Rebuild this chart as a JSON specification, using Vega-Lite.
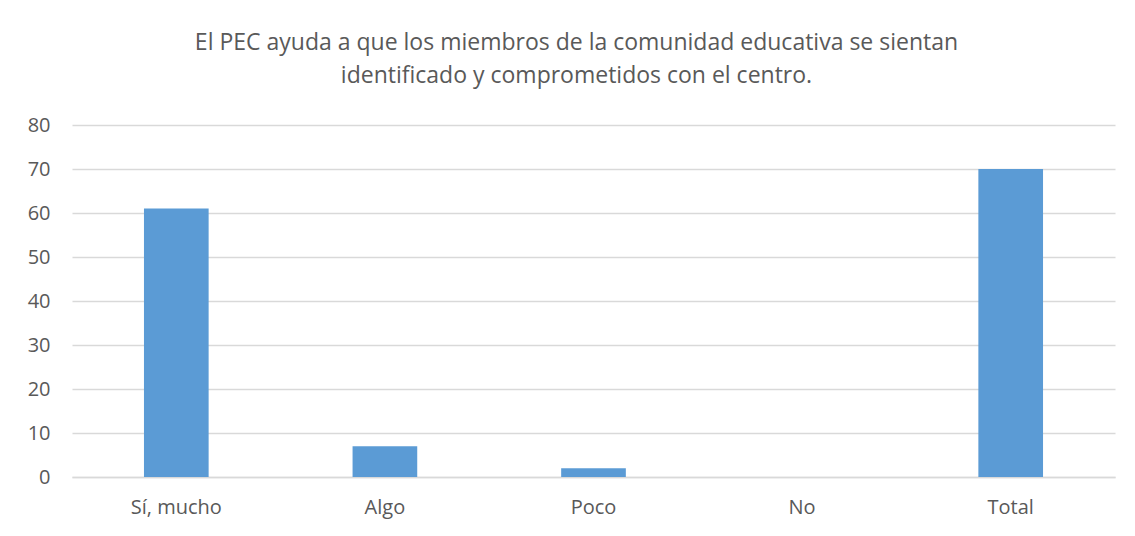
{
  "$schema": "https://vega.github.io/schema/vega-lite/v6.json",
  "autosize": "none",
  "width": 1043,
  "height": 352,
  "padding": {"left": 72, "top": 125, "right": 20, "bottom": 59},
  "background": "white",
  "title": {
    "text": ["El PEC ayuda a que los miembros de la comunidad educativa se sientan", "identificado y comprometidos con el centro."],
    "anchor": "middle",
    "fontSize": 23,
    "font": "Open Sans",
    "fontWeight": "normal",
    "color": "#595959",
    "lineHeight": 33,
    "offset": 27,
    "dx": -17
  },
  "data": {
    "values": [
      {"categoria": "Sí, mucho", "valor": 61},
      {"categoria": "Algo", "valor": 7},
      {"categoria": "Poco", "valor": 2},
      {"categoria": "No", "valor": 0},
      {"categoria": "Total", "valor": 70}
    ]
  },
  "mark": {"type": "bar", "color": "#5b9bd5"},
  "encoding": {
    "x": {
      "field": "categoria",
      "type": "nominal",
      "sort": null,
      "scale": {"paddingInner": 0.69, "paddingOuter": 0.345},
      "axis": {
        "title": null,
        "labelAngle": 0,
        "labelFont": "Open Sans",
        "labelFontSize": 20,
        "labelColor": "#595959",
        "labelPadding": 20,
        "ticks": false,
        "domainColor": "#d9d9d9",
        "domainWidth": 1.3
      }
    },
    "y": {
      "field": "valor",
      "type": "quantitative",
      "scale": {"domain": [0, 80]},
      "axis": {
        "title": null,
        "values": [0, 10, 20, 30, 40, 50, 60, 70, 80],
        "labelFont": "Open Sans",
        "labelFontSize": 20,
        "labelColor": "#595959",
        "labelPadding": 22,
        "ticks": false,
        "domain": false,
        "gridColor": "#d9d9d9",
        "gridWidth": 1.3
      }
    }
  },
  "config": {"view": {"stroke": null}}
}
